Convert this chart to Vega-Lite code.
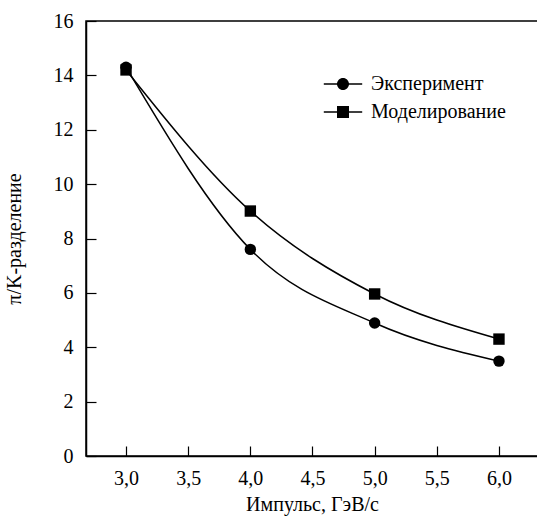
{
  "$schema": "https://vega.github.io/schema/vega-lite/v6.json",
  "width": 452,
  "height": 435,
  "autosize": "none",
  "padding": {"left": 86, "top": 21, "right": 0, "bottom": 67},
  "background": "white",
  "config": {
    "font": "Liberation Serif",
    "view": {"stroke": "black", "strokeWidth": 1.5},
    "axis": {
      "domainColor": "black",
      "domainWidth": 1.5,
      "tickColor": "black",
      "tickWidth": 1.2,
      "tickSize": -10,
      "grid": false,
      "labelColor": "black",
      "labelFontSize": 20,
      "titleColor": "black",
      "titleFontSize": 20,
      "titleFontWeight": "normal",
      "labelFont": "Liberation Serif",
      "titleFont": "Liberation Serif"
    }
  },
  "data": {
    "values": [
      {"p": 3.0, "v": 14.3, "series": "Эксперимент"},
      {"p": 4.0, "v": 7.6, "series": "Эксперимент"},
      {"p": 5.0, "v": 4.89, "series": "Эксперимент"},
      {"p": 6.0, "v": 3.49, "series": "Эксперимент"},
      {"p": 3.0, "v": 14.2, "series": "Моделирование"},
      {"p": 4.0, "v": 9.01, "series": "Моделирование"},
      {"p": 5.0, "v": 5.96, "series": "Моделирование"},
      {"p": 6.0, "v": 4.3, "series": "Моделирование"}
    ]
  },
  "encoding": {
    "x": {
      "field": "p",
      "type": "quantitative",
      "scale": {"domain": [2.678, 6.314], "nice": false, "zero": false},
      "axis": {
        "title": "Импульс, ГэВ/c",
        "values": [3, 3.5, 4, 4.5, 5, 5.5, 6],
        "labelExpr": "replace(format(datum.value, '.1f'), '.', ',')",
        "labelPadding": 22,
        "titlePadding": 6
      }
    },
    "y": {
      "field": "v",
      "type": "quantitative",
      "scale": {"domain": [0, 16], "nice": false},
      "axis": {
        "title": "π/K-разделение",
        "values": [0, 2, 4, 6, 8, 10, 12, 14, 16],
        "format": "d",
        "labelPadding": 23,
        "titlePadding": 29
      }
    }
  },
  "layer": [
    {
      "mark": {"type": "line", "interpolate": "monotone", "color": "black", "strokeWidth": 1.5},
      "encoding": {"detail": {"field": "series"}}
    },
    {
      "transform": [{"filter": "datum.series === 'Эксперимент'"}],
      "mark": {"type": "point", "shape": "circle", "filled": true, "color": "black", "opacity": 1, "size": 130}
    },
    {
      "transform": [{"filter": "datum.series === 'Моделирование'"}],
      "mark": {"type": "point", "shape": "square", "filled": true, "color": "black", "opacity": 1, "size": 130}
    },
    {
      "mark": {"type": "point", "filled": true, "color": "black", "opacity": 0, "size": 576},
      "encoding": {
        "shape": {
          "field": "series",
          "type": "nominal",
          "scale": {
            "domain": ["Эксперимент", "Моделирование"],
            "range": [
              "M-1.6,-0.06H-0.48V0.06H-1.6ZM0.48,-0.06H1.6V0.06H0.48ZM0.5,0A0.5,0.5,0,1,1,-0.5,0A0.5,0.5,0,1,1,0.5,0Z",
              "M-1.6,-0.06H-0.48V0.06H-1.6ZM0.48,-0.06H1.6V0.06H0.48ZM-0.5,-0.5H0.5V0.5H-0.5Z"
            ]
          },
          "legend": {
            "title": null,
            "orient": "none",
            "legendX": 245,
            "legendY": 51,
            "padding": 0,
            "symbolSize": 576,
            "symbolFillColor": "black",
            "symbolStrokeColor": "black",
            "symbolStrokeWidth": 0,
            "symbolOpacity": 1,
            "rowPadding": 6,
            "labelOffset": 16,
            "labelFontSize": 20,
            "labelColor": "black",
            "labelFont": "Liberation Serif"
          }
        }
      }
    }
  ]
}
